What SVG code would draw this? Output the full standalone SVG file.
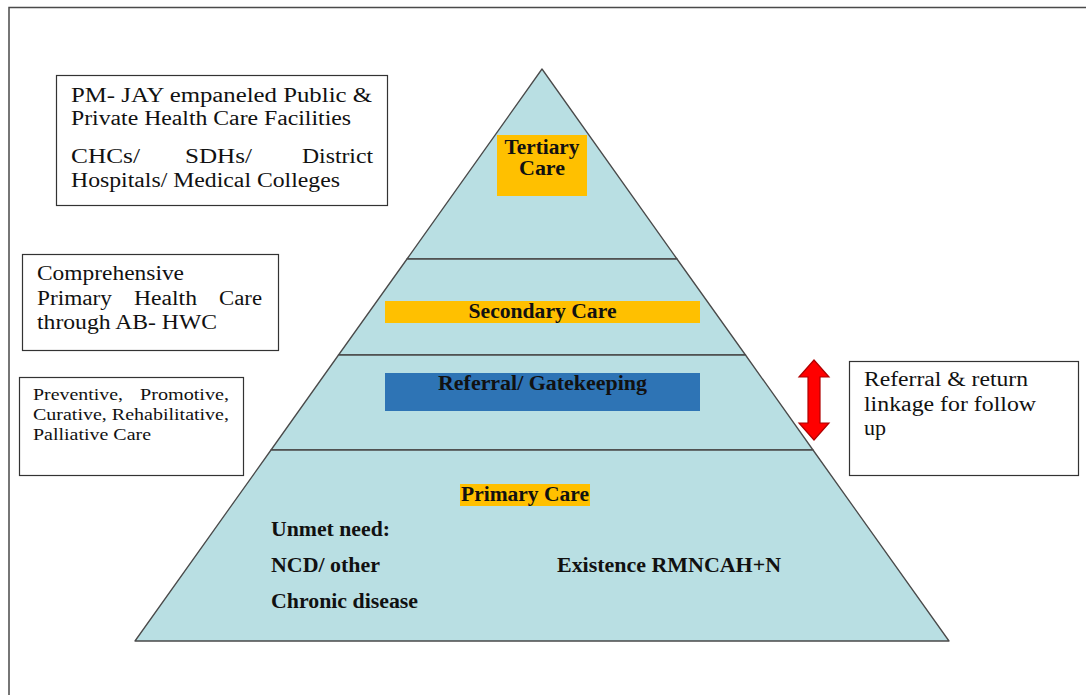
<svg xmlns="http://www.w3.org/2000/svg" width="1086" height="695" viewBox="0 0 1086 695">
  <style>
    .frame { fill: none; stroke: #4a4a4a; stroke-width: 1.5; }
    .tier { fill: #b9dfe3; stroke: #4a4a4a; stroke-width: 1.3; stroke-linejoin: round; }
    .box { fill: #ffffff; stroke: #333333; stroke-width: 1.2; }
    .hl-yellow { fill: #ffc000; }
    .hl-blue { fill: #2e74b5; }
    .t { font-family: "Liberation Serif", "Times New Roman", serif; fill: #111111; }
    .b { font-family: "Liberation Serif", "Times New Roman", serif; font-weight: bold; fill: #111111; font-size: 20px; }
    .note { font-size: 20px; }
    .small { font-size: 16.5px; }
    .arrow { fill: #ff0000; stroke: #b00000; stroke-width: 1.2; stroke-linejoin: miter; }
  </style>

  <rect width="1086" height="695" fill="#ffffff"/>
  <!-- page frame, open to the right and bottom -->
  <rect class="frame" x="9" y="7.5" width="1100" height="720"/>

  <!-- pyramid tiers, top to bottom -->
  <g id="tier-tertiary">
    <polygon class="tier" points="542,69 677,259 407,259"/>
    <rect class="hl-yellow" x="497" y="135" width="90" height="61"/>
    <text class="b" x="542" y="154" text-anchor="middle" textLength="75" lengthAdjust="spacingAndGlyphs">Tertiary</text>
    <text class="b" x="542" y="175" text-anchor="middle" textLength="46" lengthAdjust="spacingAndGlyphs">Care</text>
  </g>

  <g id="tier-secondary">
    <polygon class="tier" points="407,259 677,259 745.5,355 338.5,355"/>
    <rect class="hl-yellow" x="385" y="301" width="315" height="22"/>
    <text class="b" x="542.5" y="318" text-anchor="middle" textLength="148" lengthAdjust="spacingAndGlyphs">Secondary Care</text>
  </g>

  <g id="tier-referral">
    <polygon class="tier" points="338.5,355 745.5,355 813,450 271,450"/>
    <rect class="hl-blue" x="385" y="373" width="315" height="38"/>
    <text class="b" x="542.5" y="390" text-anchor="middle" textLength="209" lengthAdjust="spacingAndGlyphs">Referral/ Gatekeeping</text>
  </g>

  <g id="tier-primary">
    <polygon class="tier" points="271,450 813,450 949,641 135,641"/>
    <rect class="hl-yellow" x="460" y="484" width="130" height="22"/>
    <text class="b" x="525" y="501" text-anchor="middle" textLength="128" lengthAdjust="spacingAndGlyphs">Primary Care</text>
    <text class="b" x="271" y="536" textLength="119" lengthAdjust="spacingAndGlyphs">Unmet need:</text>
    <text class="b" x="271" y="572" textLength="109" lengthAdjust="spacingAndGlyphs">NCD/ other</text>
    <text class="b" x="271" y="608" textLength="147" lengthAdjust="spacingAndGlyphs">Chronic disease</text>
    <text class="b" x="557" y="572" textLength="224" lengthAdjust="spacingAndGlyphs">Existence RMNCAH+N</text>
  </g>

  <!-- side labels -->
  <g id="label-tertiary-facilities">
    <rect class="box" x="56.5" y="75.5" width="331" height="130"/>
    <text class="t note" x="71" y="102" textLength="301" lengthAdjust="spacingAndGlyphs">PM- JAY empaneled Public &amp;</text>
    <text class="t note" x="71" y="125" textLength="280" lengthAdjust="spacingAndGlyphs">Private Health Care Facilities</text>
    <text class="t note" x="71" y="163" textLength="69" lengthAdjust="spacingAndGlyphs">CHCs/</text>
    <text class="t note" x="185" y="163" textLength="67" lengthAdjust="spacingAndGlyphs">SDHs/</text>
    <text class="t note" x="302" y="163" textLength="71" lengthAdjust="spacingAndGlyphs">District</text>
    <text class="t note" x="71" y="187" textLength="269" lengthAdjust="spacingAndGlyphs">Hospitals/ Medical Colleges</text>
  </g>

  <g id="label-primary-health-care">
    <rect class="box" x="22.5" y="254.5" width="256" height="96"/>
    <text class="t note" x="37" y="280" textLength="147" lengthAdjust="spacingAndGlyphs">Comprehensive</text>
    <text class="t note" x="37" y="304.5" textLength="75" lengthAdjust="spacingAndGlyphs">Primary</text>
    <text class="t note" x="134" y="304.5" textLength="63" lengthAdjust="spacingAndGlyphs">Health</text>
    <text class="t note" x="219" y="304.5" textLength="43" lengthAdjust="spacingAndGlyphs">Care</text>
    <text class="t note" x="37" y="329" textLength="180" lengthAdjust="spacingAndGlyphs">through AB- HWC</text>
  </g>

  <g id="label-care-types">
    <rect class="box" x="19.5" y="377.5" width="224" height="98"/>
    <text class="t small" x="33" y="400" textLength="90" lengthAdjust="spacingAndGlyphs">Preventive,</text>
    <text class="t small" x="140" y="400" textLength="89" lengthAdjust="spacingAndGlyphs">Promotive,</text>
    <text class="t small" x="33" y="420" textLength="196" lengthAdjust="spacingAndGlyphs">Curative, Rehabilitative,</text>
    <text class="t small" x="33" y="440" textLength="118" lengthAdjust="spacingAndGlyphs">Palliative Care</text>
  </g>

  <g id="label-referral-linkage">
    <rect class="box" x="849.5" y="361.5" width="229" height="114"/>
    <text class="t note" x="864" y="386" textLength="164" lengthAdjust="spacingAndGlyphs">Referral &amp; return</text>
    <text class="t note" x="864" y="411" textLength="172" lengthAdjust="spacingAndGlyphs">linkage for follow</text>
    <text class="t note" x="864" y="435" textLength="22" lengthAdjust="spacingAndGlyphs">up</text>
  </g>

  <!-- connectors -->
  <g id="connectors">
    <g id="linkage-arrow">
      <polygon class="arrow" points="814,360 829,377 820,377 820,423 829,423 814,440 799,423 808,423 808,377 799,377"/>
    </g>
  </g>
</svg>
